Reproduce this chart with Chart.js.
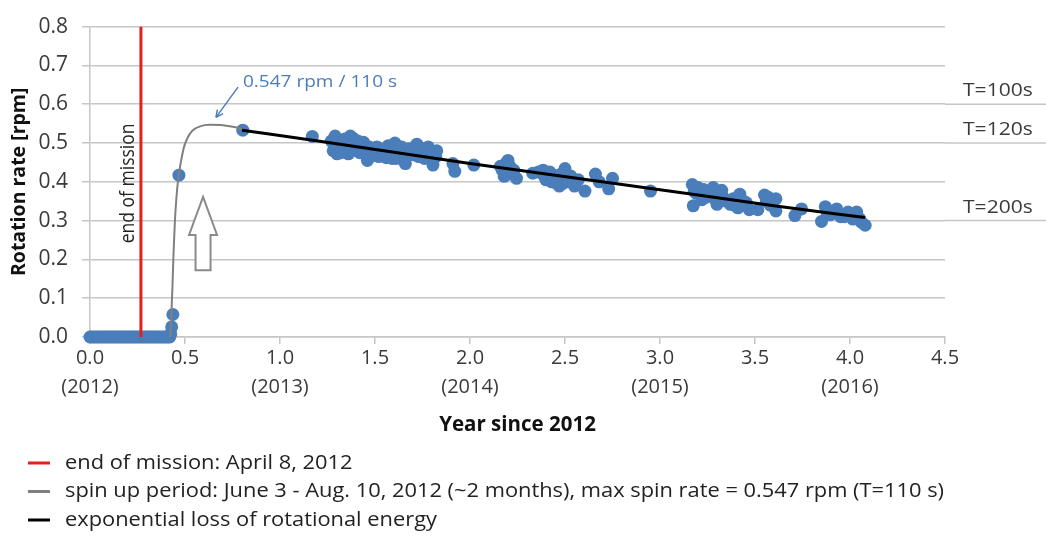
<!DOCTYPE html>
<html>
<head>
<meta charset="utf-8">
<title>Rotation rate since 2012</title>
<script src="https://cdn.jsdelivr.net/npm/chart.js@4"></script>
<style>
  html, body { margin: 0; padding: 0; background: #ffffff; overflow: hidden; }
  #wrap { width: 1046px; height: 538px; position: relative; }
</style>
</head>
<body>
<div id="wrap"><canvas id="chart" width="1046" height="538"></canvas></div>
<script>
// ---- measured rotation rates (years since 2012, rpm) ----
const obsX = [
  0.00, 0.01, 0.02, 0.03, 0.04, 0.05, 0.06, 0.07, 0.08, 0.09,
  0.10, 0.11, 0.12, 0.13, 0.14, 0.15, 0.16, 0.17, 0.18, 0.19,
  0.20, 0.21, 0.22, 0.23, 0.24, 0.25, 0.26, 0.27, 0.28, 0.29,
  0.30, 0.31, 0.32, 0.33, 0.34, 0.35, 0.36, 0.37, 0.38, 0.39,
  0.40, 0.41, 0.42, 0.425, 0.43, 0.436, 0.468, 0.804,
  1.17, 1.29, 1.28, 1.30, 1.31, 1.33, 1.35, 1.37, 1.385, 1.36,
  1.40, 1.42, 1.44, 1.46, 1.48, 1.50, 1.51, 1.54, 1.555, 1.57,
  1.59, 1.605, 1.62, 1.64, 1.65, 1.66, 1.67, 1.72, 1.73, 1.75,
  1.77, 1.805, 1.825, 1.91, 1.92, 2.02, 2.16, 2.20, 2.18, 2.21,
  2.23, 2.245, 2.33, 2.385, 2.40, 2.42, 2.44, 2.455, 2.47, 2.50,
  2.49, 2.53, 2.55, 2.57, 2.605, 2.66, 2.68, 2.73, 2.75, 2.95,
  3.17, 3.175, 3.19, 3.20, 3.22, 3.23, 3.26, 3.28, 3.30, 3.325,
  3.33, 3.37, 3.385, 3.42, 3.41, 3.455, 3.47, 3.515, 3.55, 3.56,
  3.61, 3.61, 3.71, 3.745, 3.85, 3.87, 3.895, 3.93, 3.95, 3.99,
  4.015, 4.035, 4.06, 4.08,
  1.27, 1.29, 1.32, 1.34, 1.38, 1.39, 1.41, 1.43, 1.45, 1.47,
  1.49, 1.52, 1.53, 1.56, 1.58, 1.60, 1.61, 1.63, 1.68, 1.70,
  1.74, 1.76, 1.78, 1.80, 1.82, 2.17, 2.19, 2.22, 2.36, 2.39,
  2.43, 2.46, 2.48, 2.52, 3.18, 3.21, 3.24, 3.27, 3.29, 3.31,
  3.35, 3.39, 3.44, 3.57, 3.58, 3.88, 3.91, 3.97, 4.00, 4.05
];
const obsY = [
  0, 0, 0, 0, 0, 0, 0, 0, 0, 0,
  0, 0, 0, 0, 0, 0, 0, 0, 0, 0,
  0, 0, 0, 0, 0, 0, 0, 0, 0, 0,
  0, 0, 0, 0, 0, 0, 0, 0, 0, 0,
  0, 0, 0, 0.008, 0.026, 0.058, 0.417, 0.533,
  0.517, 0.518, 0.480, 0.472, 0.500, 0.497, 0.485, 0.518, 0.512, 0.472,
  0.490, 0.475, 0.502, 0.455, 0.480, 0.468, 0.490, 0.472, 0.485, 0.493,
  0.460, 0.500, 0.472, 0.490, 0.455, 0.447, 0.468, 0.497, 0.465, 0.485,
  0.477, 0.443, 0.480, 0.447, 0.427, 0.443, 0.440, 0.455, 0.414, 0.440,
  0.430, 0.409, 0.422, 0.430, 0.405, 0.425, 0.417, 0.396, 0.389, 0.434,
  0.396, 0.415, 0.389, 0.405, 0.376, 0.420, 0.400, 0.382, 0.409, 0.376,
  0.393, 0.338, 0.371, 0.385, 0.354, 0.380, 0.365, 0.385, 0.342, 0.378,
  0.362, 0.342, 0.356, 0.368, 0.333, 0.346, 0.328, 0.328, 0.366, 0.350,
  0.356, 0.325, 0.313, 0.330, 0.298, 0.336, 0.315, 0.330, 0.310, 0.322,
  0.304, 0.322, 0.296, 0.288,
  0.505, 0.490, 0.475, 0.510, 0.480, 0.500, 0.505, 0.488, 0.470, 0.490,
  0.478, 0.465, 0.480, 0.462, 0.478, 0.485, 0.460, 0.465, 0.485, 0.470,
  0.478, 0.460, 0.490, 0.455, 0.465, 0.430, 0.448, 0.420, 0.425, 0.415,
  0.400, 0.410, 0.420, 0.400, 0.375, 0.370, 0.360, 0.375, 0.355, 0.370,
  0.350, 0.340, 0.350, 0.360, 0.340, 0.320, 0.325, 0.310, 0.312, 0.305
];

// spin up period (grey curve)
const spinX = [0.422, 0.426, 0.430, 0.434, 0.440, 0.447, 0.455, 0.465, 0.478, 0.495, 0.515, 0.540, 0.580, 0.630, 0.700, 0.760, 0.804];
const spinY = [0.000, 0.030, 0.080, 0.130, 0.220, 0.300, 0.360, 0.410, 0.450, 0.490, 0.515, 0.532, 0.543, 0.547, 0.546, 0.541, 0.535];

// exponential loss of rotational energy (black curve)
const lossX = [0.80, 1.20, 1.60, 2.00, 2.40, 2.80, 3.20, 3.60, 4.08];
const lossY = [0.533, 0.505, 0.476, 0.447, 0.420, 0.393, 0.366, 0.338, 0.308];

// end of mission, April 8, 2012
const missionEndX = 0.268;
const missionEndY = [0, 0.8];

// spin period reference levels
const periodRates = [0.6, 0.5, 0.3];
const periodLabels = ['T=100s', 'T=120s', 'T=200s'];

// peak annotation
const peakRate = 0.547;
const peakLabel = '0.547 rpm / 110 s';

// axis ticks: year labels under whole years
const yearLabels = { 0: '(2012)', 1: '(2013)', 2: '(2014)', 3: '(2015)', 4: '(2016)' };

// legend entries
const legendLabels = [
  'end of mission: April 8, 2012',
  'spin up period: June 3 - Aug. 10, 2012 (~2 months), max spin rate = 0.547 rpm (T=110 s)',
  'exponential loss of rotational energy'
];
const legendColors = ['#e0211d', '#808080', '#000000'];

// ---- styling ----
const BLUE = '#4a7ebb';
const GRID = '#c6c6c6';
const TEXT = '#3a3a3a';
const FONT = "'Open Sans', 'DejaVu Sans', sans-serif";

const toXY = (xs, ys) => xs.map((x, i) => ({ x: x, y: ys[i] }));

// text drawn slightly widened, like the rest of the lettering
function wideText(ctx, text, x, y, sx) {
  ctx.save();
  ctx.translate(x, y);
  ctx.scale(sx, 1);
  ctx.fillText(text, 0, 0);
  ctx.restore();
}

const decor = {
  id: 'decor',
  beforeDatasetsDraw(chart) {
    const { ctx, chartArea, scales: { y } } = chart;
    ctx.save();
    ctx.strokeStyle = GRID;
    ctx.lineWidth = 1.5;
    periodRates.forEach(v => {
      const py = y.getPixelForValue(v);
      ctx.beginPath();
      ctx.moveTo(chartArea.right, py);
      ctx.lineTo(chart.width, py);
      ctx.stroke();
    });
    ctx.restore();
  },
  afterDatasetsDraw(chart) {
    const { ctx, chartArea, scales: { x, y } } = chart;
    ctx.save();

    // period labels on the right
    ctx.fillStyle = TEXT;
    ctx.font = '18px ' + FONT;
    ctx.textAlign = 'left';
    ctx.textBaseline = 'middle';
    periodRates.forEach((v, i) => {
      wideText(ctx, periodLabels[i], chartArea.right + 18, y.getPixelForValue(v) - 13, 1.17);
    });

    // "end of mission" written along the red line
    ctx.save();
    ctx.translate(x.getPixelForValue(0.2), y.getPixelForValue(0.396));
    ctx.rotate(-Math.PI / 2);
    ctx.scale(1, 1.12);
    ctx.textAlign = 'center';
    ctx.textBaseline = 'middle';
    ctx.fillStyle = '#222';
    ctx.font = '17.5px ' + FONT;
    ctx.fillText('end of mission', 0, 0);
    ctx.restore();

    // peak annotation with arrow
    const ax0 = x.getPixelForValue(0.779), ay0 = y.getPixelForValue(0.644);
    const ax1 = x.getPixelForValue(0.663), ay1 = y.getPixelForValue(0.566);
    ctx.strokeStyle = BLUE;
    ctx.fillStyle = BLUE;
    ctx.lineWidth = 1.5;
    ctx.beginPath();
    ctx.moveTo(ax0, ay0);
    ctx.lineTo(ax1, ay1);
    ctx.stroke();
    const ang = Math.atan2(ay1 - ay0, ax1 - ax0);
    const hl = 8;
    ctx.beginPath();
    ctx.moveTo(ax1, ay1);
    ctx.lineTo(ax1 - hl * Math.cos(ang - 0.45), ay1 - hl * Math.sin(ang - 0.45));
    ctx.moveTo(ax1, ay1);
    ctx.lineTo(ax1 - hl * Math.cos(ang + 0.45), ay1 - hl * Math.sin(ang + 0.45));
    ctx.stroke();
    ctx.font = '17px ' + FONT;
    ctx.textAlign = 'left';
    ctx.textBaseline = 'middle';
    wideText(ctx, peakLabel, x.getPixelForValue(0.805), y.getPixelForValue(0.657), 1.12);

    // hollow up arrow marking the spin up
    const cx = x.getPixelForValue(0.595);
    const tipY = y.getPixelForValue(0.361);
    const headY = y.getPixelForValue(0.263);
    const baseY = y.getPixelForValue(0.172);
    const hw = 14, sw = 7.5;
    ctx.beginPath();
    ctx.moveTo(cx, tipY);
    ctx.lineTo(cx + hw, headY);
    ctx.lineTo(cx + sw, headY);
    ctx.lineTo(cx + sw, baseY);
    ctx.lineTo(cx - sw, baseY);
    ctx.lineTo(cx - sw, headY);
    ctx.lineTo(cx - hw, headY);
    ctx.closePath();
    ctx.fillStyle = '#ffffff';
    ctx.fill();
    ctx.strokeStyle = '#8a8a8a';
    ctx.lineWidth = 2;
    ctx.stroke();

    ctx.restore();
  },
  afterDraw(chart) {
    const ctx = chart.ctx;
    ctx.save();
    ctx.font = '19.5px ' + FONT;
    ctx.textAlign = 'left';
    ctx.textBaseline = 'middle';
    legendLabels.forEach((label, i) => {
      const cy = 463 + i * 28.5;
      ctx.strokeStyle = legendColors[i];
      ctx.lineWidth = 3;
      ctx.beginPath();
      ctx.moveTo(28, cy);
      ctx.lineTo(50, cy);
      ctx.stroke();
      ctx.fillStyle = '#222';
      wideText(ctx, label, 65, cy, 1.12);
    });
    ctx.restore();
  }
};

new Chart(document.getElementById('chart'), {
  type: 'scatter',
  data: {
    datasets: [
      {
        label: legendLabels[0],
        type: 'line',
        data: toXY([missionEndX, missionEndX], missionEndY),
        borderColor: legendColors[0],
        borderWidth: 3,
        pointRadius: 0,
        order: 0
      },
      {
        label: legendLabels[2],
        type: 'line',
        data: toXY(lossX, lossY),
        borderColor: legendColors[2],
        borderWidth: 3,
        pointRadius: 0,
        cubicInterpolationMode: 'monotone',
        order: 1
      },
      {
        label: legendLabels[1],
        type: 'line',
        data: toXY(spinX, spinY),
        borderColor: legendColors[1],
        borderWidth: 2,
        pointRadius: 0,
        cubicInterpolationMode: 'monotone',
        order: 2
      },
      {
        label: 'rotation rate',
        data: toXY(obsX, obsY),
        backgroundColor: BLUE,
        borderColor: BLUE,
        pointBackgroundColor: BLUE,
        pointBorderColor: BLUE,
        pointBorderWidth: 0,
        borderWidth: 0,
        pointRadius: 6.5,
        pointHoverRadius: 6.5,
        clip: false,
        order: 3
      }
    ]
  },
  options: {
    responsive: false,
    animation: false,
    events: [],
    layout: { padding: { left: 0, top: 20, right: 101, bottom: 100 } },
    plugins: {
      legend: { display: false },
      tooltip: { enabled: false }
    },
    scales: {
      x: {
        type: 'linear',
        min: 0,
        max: 4.5,
        afterFit: s => { s.height = 101; },
        border: { color: GRID, width: 1.5 },
        grid: { drawOnChartArea: false, color: GRID, lineWidth: 1.5, tickLength: 7 },
        ticks: {
          stepSize: 0.5,
          padding: 0,
          color: TEXT,
          maxRotation: 0,
          font: { family: FONT, size: 20, lineHeight: 1.45 },
          callback: v => {
            const txt = Number(v).toFixed(1);
            return (v in yearLabels) ? [txt, yearLabels[v]] : txt;
          }
        },
        title: {
          display: true,
          text: 'Year since 2012',
          color: '#111',
          padding: { top: 0, bottom: 1 },
          font: { family: FONT, size: 20.5, weight: 'bold' }
        }
      },
      y: {
        min: 0,
        max: 0.8,
        afterFit: s => { s.width = 90; },
        border: { color: GRID, width: 1.5 },
        grid: { color: GRID, lineWidth: 1.5, tickLength: 8 },
        ticks: {
          stepSize: 0.1,
          padding: 14,
          color: TEXT,
          font: { family: FONT, size: 21 },
          callback: v => Number(v).toFixed(1)
        },
        title: {
          display: true,
          text: 'Rotation rate [rpm]',
          color: '#111',
          padding: { top: 8, bottom: 0 },
          font: { family: FONT, size: 19.5, weight: 'bold' }
        }
      }
    }
  },
  plugins: [decor]
});
</script>
</body>
</html>
